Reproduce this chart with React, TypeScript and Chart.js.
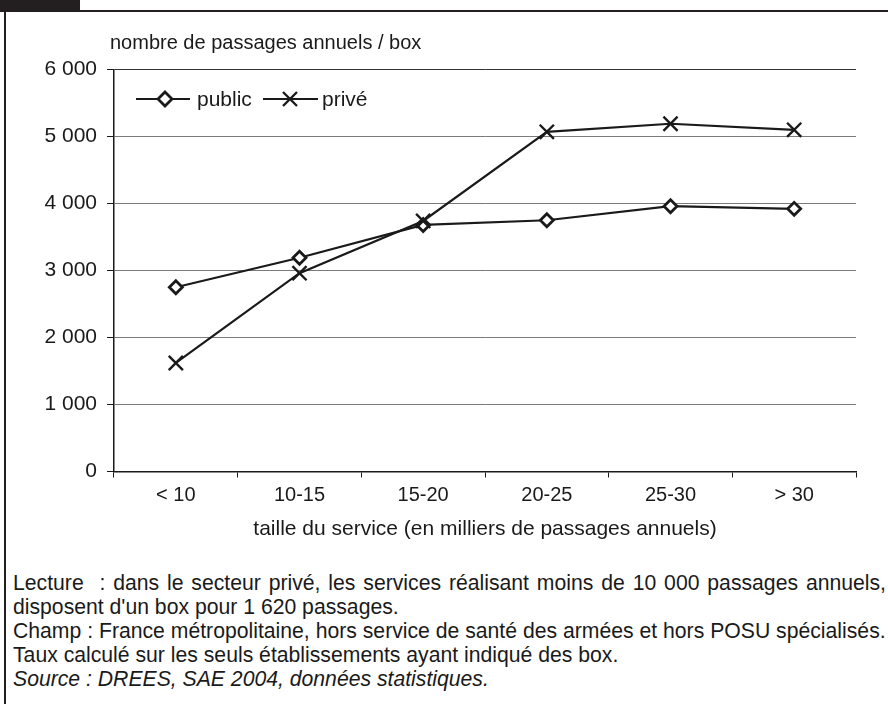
import React, { useEffect, useRef } from "react";
import { Chart, registerables } from "chart.js";

Chart.register(...registerables);

const categories = ["< 10", "10-15", "15-20", "20-25", "25-30", "> 30"];
const publicValues = [2750, 3190, 3680, 3750, 3960, 3920];
const priveValues = [1620, 2960, 3740, 5070, 5190, 5100];
const yTicks = [0, 1000, 2000, 3000, 4000, 5000, 6000];
const seriesNames = ["public", "privé"];

const FONT = "'Liberation Sans', Arial, sans-serif";
const INK = "#1a1a1a";

function fmt(v: number): string {
  return String(v).replace(/\B(?=(\d{3})+(?!\d))/g, " ");
}

const legendPlugin = {
  id: "insideLegend",
  afterDraw(chart: any) {
    const ctx = chart.ctx as CanvasRenderingContext2D;
    const { left, top } = chart.chartArea;
    const y = top + 29.5;
    ctx.save();
    ctx.strokeStyle = INK;
    ctx.lineWidth = 2;
    ctx.beginPath();
    ctx.moveTo(left + 22, y);
    ctx.lineTo(left + 76, y);
    ctx.stroke();
    const dx = left + 51;
    ctx.beginPath();
    ctx.moveTo(dx - 7, y);
    ctx.lineTo(dx, y - 7);
    ctx.lineTo(dx + 7, y);
    ctx.lineTo(dx, y + 7);
    ctx.closePath();
    ctx.fillStyle = "#fff";
    ctx.fill();
    ctx.lineWidth = 2.8;
    ctx.stroke();
    ctx.lineWidth = 2;
    ctx.beginPath();
    ctx.moveTo(left + 149, y);
    ctx.lineTo(left + 204, y);
    ctx.stroke();
    const cx = left + 176;
    const r = 7;
    ctx.lineWidth = 2.4;
    ctx.beginPath();
    ctx.moveTo(cx - r, y - r);
    ctx.lineTo(cx + r, y + r);
    ctx.moveTo(cx + r, y - r);
    ctx.lineTo(cx - r, y + r);
    ctx.stroke();
    ctx.fillStyle = INK;
    ctx.font = `21px ${FONT}`;
    ctx.textBaseline = "middle";
    ctx.textAlign = "left";
    ctx.fillText(seriesNames[0], left + 83, y + 1);
    ctx.fillText(seriesNames[1], left + 208, y + 1);
    ctx.restore();
  },
};

export default function App() {
  const ref = useRef<HTMLCanvasElement | null>(null);

  useEffect(() => {
    if (!ref.current) return;
    const chart = new Chart(ref.current, {
      type: "line",
      data: {
        labels: categories,
        datasets: [
          {
            label: seriesNames[0],
            data: publicValues,
            borderColor: INK,
            borderWidth: 2.2,
            pointStyle: "rectRot",
            pointRadius: 6.5,
            pointBorderWidth: 2.8,
            pointBackgroundColor: "#fff",
            pointBorderColor: INK,
            tension: 0,
            order: 1,
          },
          {
            label: seriesNames[1],
            data: priveValues,
            borderColor: INK,
            borderWidth: 2.2,
            pointStyle: "crossRot",
            pointRadius: 10,
            pointBorderWidth: 2.4,
            pointBackgroundColor: INK,
            pointBorderColor: INK,
            tension: 0,
            order: 0,
          },
        ],
      },
      options: {
        animation: false,
        responsive: false,
        maintainAspectRatio: false,
        layout: { padding: { left: 0, top: 69.5, right: 32, bottom: 38.5 } },
        plugins: {
          legend: { display: false },
          tooltip: { enabled: false },
          title: { display: false },
        },
        scales: {
          x: {
            type: "category",
            offset: true,
            afterFit: (s: any) => {
              s.height = 50;
            },
            grid: {
              offset: true,
              drawOnChartArea: true,
              color: (c: any) => (c.index === categories.length ? "#333" : "rgba(0,0,0,0)"),
              lineWidth: 1,
              tickColor: INK,
              tickLength: 6,
            },
            border: { display: true, color: INK, width: 1.5 },
            ticks: {
              color: INK,
              padding: 6,
              font: { family: FONT, size: 20 },
              maxRotation: 0,
              autoSkip: false,
            },
          },
          y: {
            min: 0,
            max: 6000,
            afterFit: (s: any) => {
              s.width = 114;
            },
            afterBuildTicks: (s: any) => {
              s.ticks = yTicks.map((v) => ({ value: v }));
            },
            grid: {
              color: (c: any) => (c.tick && c.tick.value === 6000 ? "#333" : "#7a7a7a"),
              lineWidth: 1,
              tickColor: INK,
              tickLength: 7,
            },
            border: { display: true, color: INK, width: 1.5 },
            ticks: {
              color: INK,
              padding: 10,
              font: { family: FONT, size: 21 },
              callback: (v: any) => fmt(Number(v)),
            },
          },
        },
      },
      plugins: [legendPlugin],
    });
    return () => chart.destroy();
  }, []);

  const textStyle: React.CSSProperties = {
    position: "absolute",
    fontFamily: FONT,
    color: INK,
    whiteSpace: "nowrap",
    lineHeight: "24px",
  };
  const noteStyle: React.CSSProperties = { ...textStyle, left: 13, fontSize: 21.2 };

  return (
    <div
      style={{
        position: "absolute",
        left: 0,
        top: 0,
        width: 888,
        height: 704,
        background: "#fff",
        overflow: "hidden",
      }}
    >
      <div style={{ position: "absolute", left: 0, top: 0, width: 80, height: 10, background: "#231f20" }} />
      <div style={{ position: "absolute", left: 0, top: 10, width: 888, height: 1.5, background: "#231f20" }} />
      <div style={{ position: "absolute", left: 4, top: 10, width: 1.5, height: 694, background: "#231f20" }} />
      <canvas ref={ref} width={888} height={560} style={{ position: "absolute", left: 0, top: 0 }} />
      <div style={{ ...textStyle, left: 110, top: 30, fontSize: 20 }}>nombre de passages annuels / box</div>
      <div style={{ ...textStyle, left: 114, width: 742, top: 516, fontSize: 21, textAlign: "center" }}>
        taille du service (en milliers de passages annuels)
      </div>
      <div
        style={{
          ...noteStyle,
          top: 570.5,
          width: 873,
          whiteSpace: "normal",
          textAlign: "justify",
          textAlignLast: "justify",
        }}
      >
        Lecture &nbsp;: dans le secteur privé, les services réalisant moins de 10 000 passages annuels,
      </div>
      <div style={{ ...noteStyle, top: 594.5 }}>disposent d'un box pour 1 620 passages.</div>
      <div style={{ ...noteStyle, top: 618.5 }}>
        Champ : France métropolitaine, hors service de santé des armées et hors POSU spécialisés.
      </div>
      <div style={{ ...noteStyle, top: 642.5 }}>Taux calculé sur les seuls établissements ayant indiqué des box.</div>
      <div style={{ ...noteStyle, top: 666.5, fontStyle: "italic" }}>Source : DREES, SAE 2004, données statistiques.</div>
    </div>
  );
}
